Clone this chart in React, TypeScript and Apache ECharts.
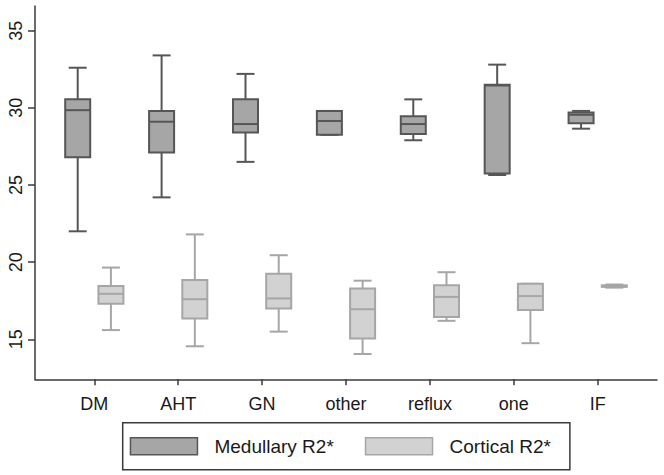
import React, { useEffect, useRef } from "react";
import * as echarts from "echarts";

const categories = ["DM", "AHT", "GN", "other", "reflux", "one", "IF"];

const medullaryMin = [22.0, 24.2, 26.5, 28.25, 27.9, 25.65, 28.65];
const medullaryQ1 = [26.8, 27.1, 28.4, 28.25, 28.3, 25.75, 29.0];
const medullaryMedian = [29.85, 29.1, 28.95, 29.15, 28.95, 31.45, 29.55];
const medullaryQ3 = [30.55, 29.8, 30.55, 29.8, 29.45, 31.5, 29.7];
const medullaryMax = [32.6, 33.4, 32.2, 29.8, 30.55, 32.8, 29.8];

const corticalMin = [15.6, 14.55, 15.5, 14.05, 16.2, 14.75, 18.35];
const corticalQ1 = [17.3, 16.35, 17.0, 15.05, 16.45, 16.9, 18.4];
const corticalMedian = [17.95, 17.6, 17.65, 16.95, 17.75, 17.8, 18.45];
const corticalQ3 = [18.45, 18.85, 19.25, 18.3, 18.5, 18.6, 18.5];
const corticalMax = [19.65, 21.8, 20.45, 18.8, 19.35, 18.6, 18.55];

const yTicks = [15, 20, 25, 30, 35];

const FONT = "'Liberation Sans', Arial, sans-serif";

function buildData(mn: number[], q1: number[], md: number[], q3: number[], mx: number[]) {
  return categories.map((_, i) => [i + 1, mn[i], q1[i], md[i], q3[i], mx[i]]);
}

function makeRender(side: number, fill: string, stroke: string) {
  return (params: any, api: any) => {
    const x = api.value(0);
    const unit = api.size([1, 0])[0];
    const off = side * 0.198 * unit;
    const hw = 0.149 * unit;
    const cw = 0.107 * unit;
    const pMin = api.coord([x, api.value(1)]);
    const pQ1 = api.coord([x, api.value(2)]);
    const pMed = api.coord([x, api.value(3)]);
    const pQ3 = api.coord([x, api.value(4)]);
    const pMax = api.coord([x, api.value(5)]);
    const cx = pMin[0] + off;
    const lw = 2;
    const ls = { stroke, lineWidth: lw, fill: null as any };
    return {
      type: "group",
      children: [
        { type: "line", shape: { x1: cx, y1: pMax[1], x2: cx, y2: pQ3[1] }, style: ls },
        { type: "line", shape: { x1: cx, y1: pQ1[1], x2: cx, y2: pMin[1] }, style: ls },
        { type: "line", shape: { x1: cx - cw, y1: pMax[1], x2: cx + cw, y2: pMax[1] }, style: ls },
        { type: "line", shape: { x1: cx - cw, y1: pMin[1], x2: cx + cw, y2: pMin[1] }, style: ls },
        {
          type: "rect",
          shape: { x: cx - hw, y: pQ3[1], width: hw * 2, height: pQ1[1] - pQ3[1] },
          style: { fill, stroke, lineWidth: lw },
        },
        { type: "line", shape: { x1: cx - hw, y1: pMed[1], x2: cx + hw, y2: pMed[1] }, style: ls },
      ],
    };
  };
}

export default function App() {
  const ref = useRef<HTMLDivElement>(null);
  useEffect(() => {
    if (!ref.current) return;
    const chart = echarts.init(ref.current, undefined, { renderer: "svg" });
    const medFill = "#a6a6a6";
    const medStroke = "#565656";
    const corFill = "#d2d2d2";
    const corStroke = "#a6a6a6";
    chart.setOption({
      animation: false,
      backgroundColor: "#ffffff",
      textStyle: { fontFamily: FONT },
      grid: { left: 35, right: 7, top: 6, bottom: 95.7, containLabel: false },
      xAxis: {
        type: "value",
        min: 0.293,
        max: 7.707,
        axisLine: { show: true, onZero: false, lineStyle: { color: "#3a3a3a", width: 1.5 } },
        axisTick: { show: true, length: 6, customValues: [1, 2, 3, 4, 5, 6, 7], lineStyle: { color: "#3a3a3a", width: 1.5 } },
        axisLabel: {
          customValues: [1, 2, 3, 4, 5, 6, 7],
          formatter: (v: number) => categories[Math.round(v) - 1] ?? "",
          fontSize: 18,
          color: "#1a1a1a",
          fontFamily: FONT,
          margin: 16,
        },
        splitLine: { show: false },
      },
      yAxis: {
        type: "value",
        min: 12.41,
        max: 36.6,
        axisLine: { show: true, lineStyle: { color: "#3a3a3a", width: 1.5 } },
        axisTick: { show: true, length: 7, customValues: yTicks, lineStyle: { color: "#3a3a3a", width: 1.5 } },
        axisLabel: {
          customValues: yTicks,
          rotate: 90,
          fontSize: 18,
          color: "#1a1a1a",
          fontFamily: FONT,
          margin: 10,
        },
        splitLine: { show: false },
      },
      legend: {
        left: 122.7,
        top: 422.7,
        orient: "horizontal",
        padding: [14, 19, 14, 7],
        borderColor: "#3a3a3a",
        borderWidth: 1.5,
        itemWidth: 67,
        itemHeight: 17,
        itemGap: 31,
        textStyle: { fontSize: 19, color: "#1a1a1a", fontFamily: FONT, padding: [0, 0, 0, 12] },
        data: [
          { name: "Medullary R2*", icon: "rect", itemStyle: { color: medFill, borderColor: medStroke, borderWidth: 1.5 } },
          { name: "Cortical R2*", icon: "rect", itemStyle: { color: corFill, borderColor: corStroke, borderWidth: 1.5 } },
        ],
      },
      series: [
        {
          name: "Medullary R2*",
          type: "custom",
          renderItem: makeRender(-1, medFill, medStroke),
          itemStyle: { color: medFill, borderColor: medStroke },
          encode: { x: 0, y: [1, 2, 3, 4, 5] },
          data: buildData(medullaryMin, medullaryQ1, medullaryMedian, medullaryQ3, medullaryMax),
        },
        {
          name: "Cortical R2*",
          type: "custom",
          renderItem: makeRender(1, corFill, corStroke),
          itemStyle: { color: corFill, borderColor: corStroke },
          encode: { x: 0, y: [1, 2, 3, 4, 5] },
          data: buildData(corticalMin, corticalQ1, corticalMedian, corticalQ3, corticalMax),
        },
      ],
    });
    return () => chart.dispose();
  }, []);
  return (
    <div
      ref={ref}
      style={{ position: "fixed", left: 0, top: 0, width: 664, height: 475, background: "#fff" }}
    />
  );
}
